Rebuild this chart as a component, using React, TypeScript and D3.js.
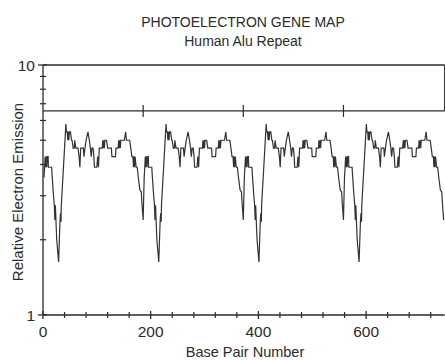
import React from 'react';
import * as d3 from 'd3';

// one Alu repeat unit: offset (bp) from the start of the repeat, emission value
const unitOffsets = [
  1.9, 3, 4, 5, 6, 7, 8, 9.5, 10, 16, 17, 19, 21, 22, 23, 24, 25.5, 29, 31.5, 32.5, 33.5, 34, 38, 40,
  42.5, 43.5, 45, 46, 47, 48, 49, 51, 53, 54, 56, 58, 59, 61, 65, 67, 68.5, 70, 75, 76, 78, 80,
  83.5, 86, 88, 89.5, 91, 93, 94.5, 95.5, 100, 101.5, 103, 104.5, 110, 111, 112, 113, 114, 115, 118,
  120, 127, 128, 134.5, 135.5, 139.5, 140.5, 141.5, 142.5, 143.5, 144.5, 151, 153.5, 155, 161, 163,
  165, 167, 168, 169, 170, 171, 173, 175, 177, 180, 182.5, 184, 186
];
const unitValues = [
  3.55, 3.9, 4.3, 3.9, 4.3, 3.9, 4.3, 4.3, 3.9, 3.9, 3.6, 3.1, 2.75, 2.4, 2.75, 2.4, 2.0, 1.63, 2.36, 2.55, 2.36, 2.75, 3.9, 4.65,
  5.8, 5.4, 5.4, 5.0, 5.4, 5.0, 5.4, 5.4, 5.0, 5.0, 4.65, 4.65, 5.0, 4.65, 4.65, 4.3, 3.9, 4.65, 4.65, 4.3, 4.65, 5.0,
  5.4, 5.0, 4.65, 4.3, 4.65, 4.65, 4.3, 3.9, 3.9, 4.3, 3.9, 4.65, 4.65, 5.0, 4.65, 5.0, 4.65, 5.0, 5.0,
  4.65, 4.65, 4.3, 4.3, 4.65, 4.65, 5.0, 4.65, 5.0, 4.65, 5.0, 5.0, 5.4, 5.0, 5.0, 4.65,
  4.3, 4.3, 3.9, 4.3, 3.9, 4.3, 3.9, 3.9, 3.55, 3.16, 3.11, 2.75, 2.4
];
// start of each repeat along the sequence (also marked on the reference line)
const repeatStarts = [0, 186, 372, 558];
const referenceLevel = 6.55;

const xMajorTicks = [0, 200, 400, 600];
const xMinorTicks = [40, 80, 120, 160, 240, 280, 320, 360, 440, 480, 520, 560, 640, 680, 720];
const yMinorTicks = [2, 3, 4, 5, 6, 7, 8, 9];
const yLabelTicks = [1, 10];

const width = 445;
const height = 360;
const font = '"Liberation Sans", Arial, sans-serif';
const ink = '#2b2b2b';

export default function App() {
  const x = d3.scaleLinear().domain([0, 746]).range([43, 444.7]);
  const y = d3.scaleLog().domain([1, 10]).range([315, 65]);

  const series = repeatStarts.flatMap(s =>
    unitOffsets.map((o, i) => ({ bp: s + o, v: unitValues[i] }))
  );

  const line = d3.line<{ bp: number; v: number }>()
    .x(d => x(d.bp))
    .y(d => y(d.v));

  const [x0, x1] = x.range();
  const [yBottom, yTop] = y.range();

  return (
    <svg width={width} height={height} style={{ position: 'absolute', left: 0, top: 0, background: '#fff' }}>
      {/* Titles */}
      <text x={243} y={27} textAnchor="middle" fontFamily={font} fontSize={14} fill={ink}>
        PHOTOELECTRON GENE MAP
      </text>
      <text x={243} y={46} textAnchor="middle" fontFamily={font} fontSize={14} fill={ink}>
        Human Alu Repeat
      </text>

      {/* frame: axes, top border, reference line */}
      <line x1={x0} x2={x0} y1={yTop} y2={yBottom} stroke={ink} strokeWidth={1.3} />
      <line x1={x0} x2={x1} y1={yBottom} y2={yBottom} stroke={ink} strokeWidth={1.3} />
      <line x1={x0} x2={x1} y1={yTop} y2={yTop} stroke={ink} strokeWidth={1.3} />
      <line x1={x1} x2={x1} y1={yTop} y2={y(referenceLevel)} stroke={ink} strokeWidth={1.3} />
      <line x1={x0} x2={x1} y1={y(referenceLevel)} y2={y(referenceLevel)} stroke={ink} strokeWidth={1.3} />
      {repeatStarts.slice(1).map(s => (
        <line key={`r-${s}`} x1={x(s)} x2={x(s)} y1={y(referenceLevel) - 6} y2={y(referenceLevel) + 6}
          stroke={ink} strokeWidth={1.2} />
      ))}

      {/* x ticks */}
      {xMajorTicks.map(t => (
        <g key={`xm-${t}`}>
          <line x1={x(t)} x2={x(t)} y1={yBottom - 4} y2={yBottom + 4} stroke={ink} strokeWidth={1.3} />
          <text x={x(t)} y={yBottom + 22} textAnchor="middle" fontFamily={font} fontSize={15.5} fill={ink}>{t}</text>
        </g>
      ))}
      {xMinorTicks.map(t => (
        <line key={`xn-${t}`} x1={x(t)} x2={x(t)} y1={yBottom - 3} y2={yBottom + 3} stroke={ink} strokeWidth={1.2} />
      ))}

      {/* y ticks */}
      {yLabelTicks.map(t => (
        <g key={`yl-${t}`}>
          <line x1={x0 - 5} x2={x0 + 4} y1={y(t)} y2={y(t)} stroke={ink} strokeWidth={1.3} />
          <text x={x0 - 8} y={y(t) + 5.5} textAnchor="end" fontFamily={font} fontSize={15.5} fill={ink}>{t}</text>
        </g>
      ))}
      {yMinorTicks.map(t => (
        <line key={`yn-${t}`} x1={x0 - 3} x2={x0 + 3} y1={y(t)} y2={y(t)} stroke={ink} strokeWidth={1.2} />
      ))}

      {/* axis titles */}
      <text transform={`translate(23, 192) rotate(-90)`} textAnchor="middle" fontFamily={font} fontSize={15} fill={ink}>
        Relative Electron Emission
      </text>
      <text x={245} y={357} textAnchor="middle" fontFamily={font} fontSize={14.5} fill={ink}>
        Base Pair Number
      </text>

      {/* emission trace */}
      <path d={line(series) ?? ''} fill="none" stroke="#333" strokeWidth={1.2} strokeLinejoin="miter" />
    </svg>
  );
}
